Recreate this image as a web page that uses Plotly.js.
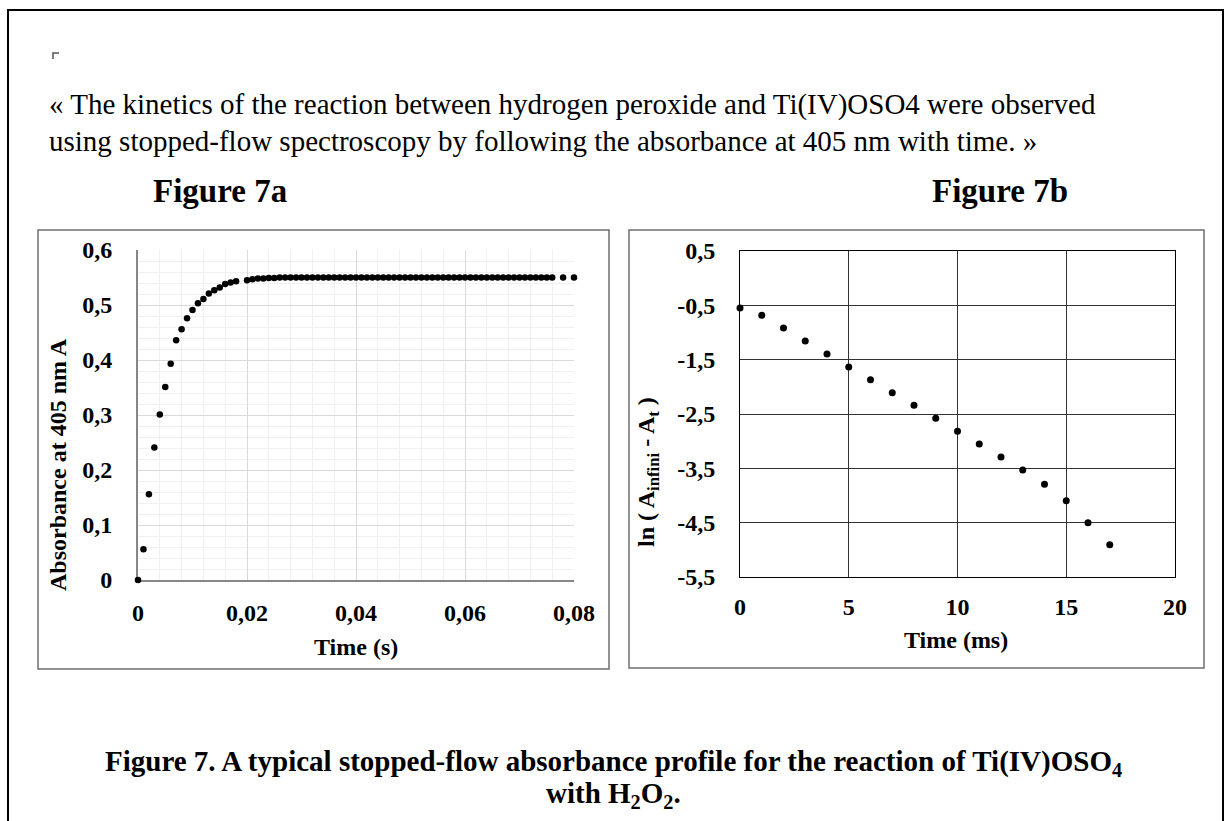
<!DOCTYPE html>
<html>
<head>
<meta charset="utf-8">
<script src="https://cdn.plot.ly/plotly-3.0.1.min.js"></script>
<style>
html,body{margin:0;padding:0;background:#fff;}
#chart{width:1226px;height:821px;}
</style>
</head>
<body>
<div id="chart"></div>
<script>
// ---- Data ----
const timeA = [0,0.001,0.002,0.003,0.004,0.005,0.006,0.007,0.008,0.009,0.010,0.011,0.012,0.013,0.014,0.015,0.016,0.017,0.018,
  0.020,0.021,0.022,0.023,0.024,0.025,
  0.026,0.027,0.028,0.029,0.030,0.031,0.032,0.033,0.034,0.035,0.036,0.037,0.038,0.039,0.040,0.041,0.042,0.043,0.044,0.045,
  0.046,0.047,0.048,0.049,0.050,0.051,0.052,0.053,0.054,0.055,0.056,0.057,0.058,0.059,0.060,0.061,0.062,0.063,0.064,0.065,
  0.066,0.067,0.068,0.069,0.070,0.071,0.072,0.073,0.074,0.075,0.076,0.078,0.080];
const absA = [0,0.056,0.156,0.241,0.301,0.351,0.393,0.436,0.456,0.476,0.491,0.503,0.511,0.521,0.527,0.532,0.538,0.541,0.543,
  0.545,0.547,0.548,0.548,0.549,0.549,
  0.55,0.55,0.55,0.55,0.55,0.55,0.55,0.55,0.55,0.55,0.55,0.55,0.55,0.55,0.55,0.55,0.55,0.55,0.55,0.55,
  0.55,0.55,0.55,0.55,0.55,0.55,0.55,0.55,0.55,0.55,0.55,0.55,0.55,0.55,0.55,0.55,0.55,0.55,0.55,0.55,
  0.55,0.55,0.55,0.55,0.55,0.55,0.55,0.55,0.55,0.55,0.55,0.55,0.55];

const timeB = [0,1,2,3,4,5,6,7,8,9,10,11,12,13,14,15,16,17];
const lnB = [-0.549,-0.684,-0.917,-1.156,-1.396,-1.635,-1.868,-2.107,-2.340,-2.580,-2.819,-3.052,-3.291,-3.531,-3.794,-4.095,-4.500,-4.907];

const bTickVals = [0.5,-0.5,-1.5,-2.5,-3.5,-4.5,-5.5];
const bTickText = ['0,5','-0,5','-1,5','-2,5','-3,5','-4,5','-5,5'];

const introLine1 = '« The kinetics of the reaction between hydrogen peroxide and Ti(IV)OSO4 were observed';
const introLine2 = 'using stopped-flow spectroscopy by following the absorbance at 405 nm with time. »';
const titleA = 'Figure 7a';
const titleB = 'Figure 7b';
const xTitleA = 'Time (s)';
const yTitleA = 'Absorbance at 405 nm A';
const xTitleB = 'Time (ms)';
const yTitleB = 'ln ( A<sub>infini</sub> - A<sub>t</sub> )';
const caption1 = 'Figure 7. A typical stopped-flow absorbance profile for the reaction of Ti(IV)OSO<sub>4</sub>';
const caption2 = 'with H<sub>2</sub>O<sub>2</sub>.';

// ---- Layout helpers ----
const W = 1226, H = 821;
const px = x => x / W;
const py = y => 1 - y / H;
const SERIF = 'Liberation Serif';
const tickFont = {family: SERIF, size: 24, color: '#000', weight: 'bold'};
const titleFont = {family: SERIF, size: 24, color: '#000', weight: 'bold'};

const traces = [
  {x: timeA, y: absA, type: 'scatter', mode: 'markers', xaxis: 'x', yaxis: 'y', cliponaxis: false,
   marker: {color: '#000', size: 6.5}, hoverinfo: 'skip'},
  {x: timeB, y: lnB, type: 'scatter', mode: 'markers', xaxis: 'x2', yaxis: 'y2', cliponaxis: false,
   marker: {color: '#000', size: 7}, hoverinfo: 'skip'}
];

function ann(text, x, y, font, extra) {
  return Object.assign({text: text, x: px(x), y: py(y), xref: 'paper', yref: 'paper',
    showarrow: false, xanchor: 'center', yanchor: 'middle', font: font}, extra || {});
}

const layout = {
  width: W, height: H,
  margin: {l: 0, r: 0, t: 0, b: 0},
  paper_bgcolor: '#fff', plot_bgcolor: '#fff',
  separators: ', ',
  showlegend: false,
  font: {family: SERIF, size: 24, color: '#000'},
  xaxis: {domain: [px(138), px(574)], anchor: 'y', range: [0, 0.08], tick0: 0, dtick: 0.02,
    showgrid: true, gridcolor: '#d9d9d9', gridwidth: 1,
    minor: {dtick: 0.004, showgrid: true, gridcolor: '#f0f0f0', gridwidth: 1, ticks: ''},
    showline: true, linecolor: '#878787', linewidth: 2, zeroline: false, ticks: '', layer: 'below traces',
    tickfont: tickFont, ticklabelstandoff: 10, fixedrange: true},
  yaxis: {domain: [py(580), py(250)], anchor: 'x', range: [0, 0.6], tick0: 0, dtick: 0.1,
    showgrid: true, gridcolor: '#d9d9d9', gridwidth: 1,
    minor: {dtick: 0.02, showgrid: true, gridcolor: '#f0f0f0', gridwidth: 1, ticks: ''},
    showline: true, linecolor: '#878787', linewidth: 2, zeroline: false, ticks: '', layer: 'below traces',
    tickfont: tickFont, ticklabelstandoff: 19, fixedrange: true},
  xaxis2: {domain: [px(740), px(1175)], anchor: 'y2', range: [0, 20], tick0: 0, dtick: 5,
    showgrid: true, gridcolor: '#333', gridwidth: 1,
    showline: true, mirror: true, linecolor: '#000', linewidth: 1, zeroline: false, ticks: '', layer: 'below traces',
    tickfont: tickFont, ticklabelstandoff: 8, fixedrange: true},
  yaxis2: {domain: [py(577), py(251)], anchor: 'x2', range: [-5.5, 0.5],
    tickmode: 'array', tickvals: bTickVals, ticktext: bTickText,
    showgrid: true, gridcolor: '#333', gridwidth: 1,
    showline: true, mirror: true, linecolor: '#000', linewidth: 1, zeroline: false, ticks: '', layer: 'below traces',
    tickfont: tickFont, ticklabelstandoff: 19, fixedrange: true},
  shapes: [
    {type: 'rect', xref: 'paper', yref: 'paper', x0: px(8), x1: px(1223), y0: py(10), y1: py(840),
     line: {color: '#000', width: 2}},
    {type: 'rect', xref: 'paper', yref: 'paper', x0: px(38), x1: px(609), y0: py(230), y1: py(669),
     line: {color: '#6f6f6f', width: 1.5}},
    {type: 'rect', xref: 'paper', yref: 'paper', x0: px(629), x1: px(1204), y0: py(230), y1: py(668),
     line: {color: '#6f6f6f', width: 1.5}},
    {type: 'path', xref: 'paper', yref: 'paper',
     path: 'M ' + px(53) + ',' + py(59) + ' L ' + px(53) + ',' + py(53) + ' L ' + px(59) + ',' + py(53),
     line: {color: '#555', width: 1.5}}
  ],
  annotations: [
    ann(introLine1, 47, 105, {family: SERIF, size: 29, color: '#000'}, {xanchor: 'left'}),
    ann(introLine2, 47, 141, {family: SERIF, size: 29, color: '#000'}, {xanchor: 'left'}),
    ann(titleA, 220, 191, {family: SERIF, size: 33, color: '#000', weight: 'bold'}),
    ann(titleB, 1000, 191, {family: SERIF, size: 33, color: '#000', weight: 'bold'}),
    ann(xTitleA, 356, 647, titleFont),
    ann(yTitleA, 58, 465, titleFont, {textangle: -90}),
    ann(xTitleB, 956, 640, titleFont),
    ann(yTitleB, 648, 472, titleFont, {textangle: -90}),
    ann(caption1, 613, 763, {family: SERIF, size: 29, color: '#000', weight: 'bold'}),
    ann(caption2, 613, 795, {family: SERIF, size: 29, color: '#000', weight: 'bold'})
  ]
};

Plotly.newPlot('chart', traces, layout, {displayModeBar: false, staticPlot: true});
</script>
</body>
</html>
